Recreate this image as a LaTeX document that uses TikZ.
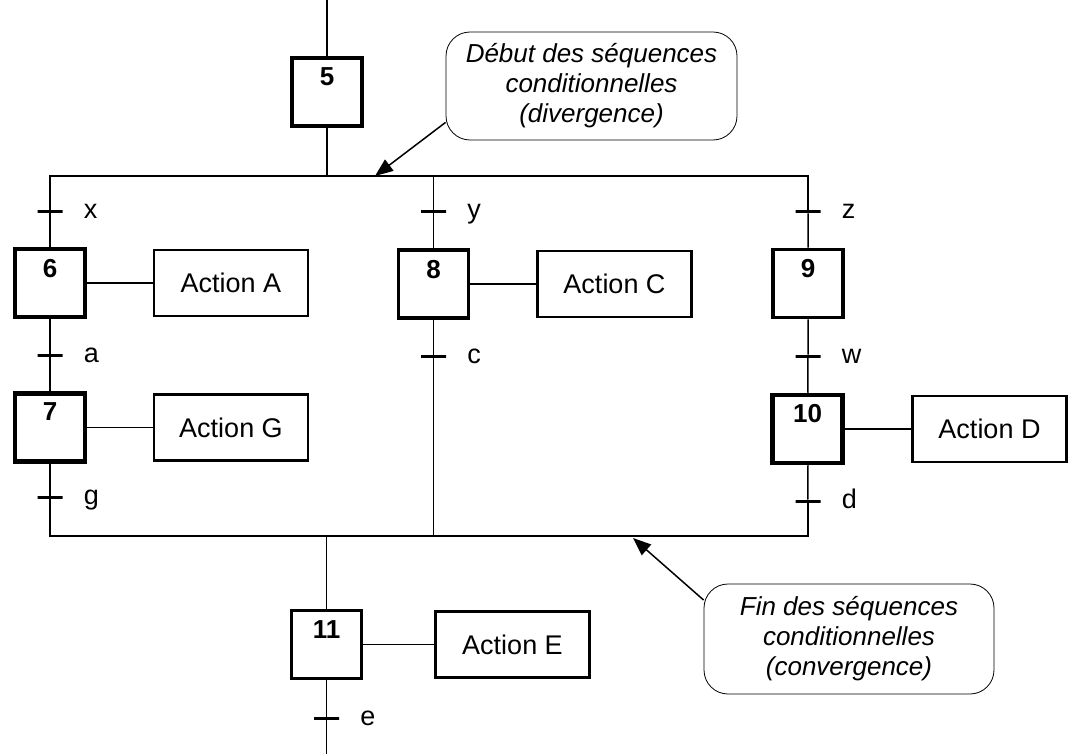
\documentclass[tikz,border=0pt]{standalone}
\usepackage{fontspec}
\setmainfont{Liberation Sans}
\usetikzlibrary{arrows.meta}

\tikzset{
  stepbox/.style={draw,line width=3.5pt,minimum width=70pt,minimum height=68pt,inner sep=0pt,
    label={[font=\bfseries\fontsize{26}{28}\selectfont,anchor=north,inner sep=0pt,yshift=-11pt]north:#1}},
  action/.style={draw,line width=2.5pt,minimum width=154pt,minimum height=66pt,
    font=\fontsize{27}{30}\selectfont},
  trans/.style={draw,line width=3pt,minimum width=25pt,minimum height=0pt,inner sep=0pt,
    label={[font=\fontsize{27}{30}\selectfont,inner sep=0pt,anchor=base west,yshift=-7pt,label distance=19pt]right:#1}},
  comment/.style={draw,line width=0.8pt,rounded corners=24pt,align=center,
    font=\itshape\fontsize{26}{30}\selectfont}
}

\begin{document}
\begin{tikzpicture}[x=1pt,y=-1pt,>={Triangle[length=18pt,width=14pt]},line width=1.5pt,node distance=181pt]
\useasboundingbox (0,0) rectangle (1071,754);

% steps
\node[stepbox=5,line width=4.5pt]  (s5)  at (327,92)    {};
\node[stepbox=6]   (s6)  at (50,283)    {};
\node[stepbox=7,line width=4.5pt]  (s7)  at (50,427.5)  {};
\node[stepbox=8]   (s8)  at (433.5,284) {};
\node[stepbox=9]   (s9)  at (808,283.5) {};
\node[stepbox=10,line width=4.5pt] (s10) at (807.5,429) {};
\node[stepbox=11]  (s11) at (326.5,644.5) {};

% actions
\node[action]  (aA) [right of=s6]  {Action A};
\node[action]  (aG) [right of=s7]  {Action G};
\node[action]  (aC) [right of=s8]  {Action C};
\node[action]  (aD) [right of=s10, node distance=182pt] {Action D};
\node[action]  (aE) [right of=s11, node distance=186pt] {Action E};

% transitions
\node[trans=x]  (tx) at (50,212)  {};
\node[trans=a]  (ta) at (50,355)  {};
\node[trans=g]  (tg) at (50,497)  {};
\node[trans=y]  (ty) at (433.5,212) {};
\node[trans=c]  (tc) at (433.5,356) {};
\node[trans=z]  (tz) at (808,212) {};
\node[trans=w]  (tw) at (808,356) {};
\node[trans=d]  (td) at (808,501) {};
\node[trans=e]  (te) at (326.5,718) {};

% divergence / convergence
\coordinate (top) at (327,0);
\coordinate (d6)  at (50,176);
\coordinate (d5)  at (327,176);
\coordinate (d8)  at (433.5,176);
\coordinate (d9)  at (808,176);
\coordinate (c7)  at (50,536);
\coordinate (c11) at (326.5,536);
\coordinate (c8)  at (433.5,536);
\coordinate (c10) at (808,536);
\coordinate (bot) at (326.5,754);
\coordinate (pdiv) at (375,176);
\coordinate (pconv) at (633,538);

\draw (top) -- (s5) -- (d5);
\draw (tx) -- (d6) -- (d9) -- (tz);
\draw (d8) -- (ty) -- (s8) -- (tc) -- (c8);
\draw (tx) -- (s6) -- (ta) -- (s7) -- (tg) -- (c7) -- (c10) -- (td);
\draw (tz) -- (s9) -- (tw) -- (s10) -- (td);
\draw (c11) -- (s11) -- (te) -- (bot);

\path (s6)  edge (aA)
      (s7)  edge (aG)
      (s8)  edge (aC)
      (s10) edge (aD)
      (s11) edge (aE);

% comments
\node[comment,minimum width=291pt,minimum height=108pt] (n1) at (591.5,86)
  {D\'ebut des s\'equences\\conditionnelles\\(divergence)};
\node[comment,minimum width=290pt,minimum height=110pt] (n2) at (849,639)
  {Fin des s\'equences\\conditionnelles\\(convergence)};

\draw[->] (n1.194) -- (pdiv);
\draw[->] (n2.165) -- (pconv);
\end{tikzpicture}
\end{document}
